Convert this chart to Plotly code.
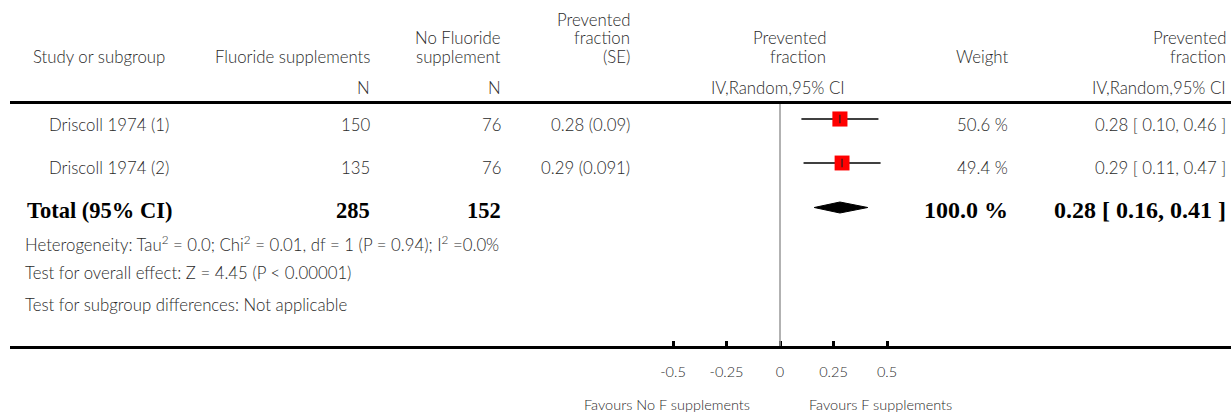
import plotly.graph_objects as go

# ---------------- data ----------------
studies = ["Driscoll 1974 (1)", "Driscoll 1974 (2)"]
n_fluoride = [150, 135]
n_control = [76, 76]
pf_se_text = ["0.28 (0.09)", "0.29 (0.091)"]
estimate = [0.28, 0.29]
ci_low = [0.10, 0.11]
ci_high = [0.46, 0.47]
weights = [50.6, 49.4]

total_label = "Total (95% CI)"
total_n_fluoride = 285
total_n_control = 152
total_est = 0.28
total_low = 0.16
total_high = 0.41
total_weight = 100.0

heterogeneity = "Heterogeneity: Tau<sup>2</sup> = 0.0; Chi<sup>2</sup> = 0.01, df = 1 (P = 0.94); I<sup>2</sup> =0.0%"
overall_effect = "Test for overall effect: Z = 4.45 (P < 0.00001)"
subgroup_diff = "Test for subgroup differences: Not applicable"

tick_vals = [-0.5, -0.25, 0, 0.25, 0.5]
tick_text = ["-0.5", "-0.25", "0", "0.25", "0.5"]
favours_left = "Favours No F supplements"
favours_right = "Favours F supplements"

# ---------------- layout constants ----------------
W, H = 1231, 412
ML = 10
PLOT_BOTTOM = 346
PX_PER_UNIT = 214.0
ZERO_PX = 780
r0 = -(ZERO_PX - ML) / PX_PER_UNIT
r1 = r0 + (W - ML) / PX_PER_UNIT

row_mark_y = [119, 163]
row_text_y = [124, 167]
total_mark_y = 207.5
total_text_y = 210
foot_y = [243, 272, 304]
LINE_H = 18.5

SANS = "Lato"
SERIF = "Liberation Serif"
TXT = "#2a2a2a"
FS = 16.8
WEIGHT = 300

fig = go.Figure()

# CI lines + squares
fig.add_trace(go.Scatter(
    x=estimate, y=row_mark_y, mode="markers",
    marker=dict(symbol="square", color="#ff0000", opacity=1,
                size=[15 * (w / 50.0) ** 0.5 for w in weights],
                line=dict(width=0)),
    error_x=dict(type="data", symmetric=False,
                 array=[h - e for h, e in zip(ci_high, estimate)],
                 arrayminus=[e - l for e, l in zip(estimate, ci_low)],
                 color="black", thickness=1.6, width=0),
    hoverinfo="skip", showlegend=False, xaxis="x", yaxis="y"))
# small centre tick
fig.add_trace(go.Scatter(
    x=estimate, y=row_mark_y, mode="markers",
    marker=dict(symbol="line-ns", size=6, opacity=1, line=dict(width=1.2, color="#222")),
    hoverinfo="skip", showlegend=False))
# diamond
dh = 5.5
fig.add_trace(go.Scatter(
    x=[total_low, total_est, total_high, total_est, total_low],
    y=[total_mark_y, total_mark_y - dh, total_mark_y, total_mark_y + dh, total_mark_y],
    mode="lines", fill="toself", fillcolor="black",
    line=dict(color="black", width=1), hoverinfo="skip", showlegend=False))
# dummy trace for pixel axis
fig.add_trace(go.Scatter(x=[ML], y=[0], mode="markers", marker=dict(opacity=0),
                         xaxis="x2", yaxis="y", hoverinfo="skip", showlegend=False))

ann = []
def t(x, y, text, anchor="left", size=FS, family=SANS, color=TXT, weight=WEIGHT, paper_y=False):
    if paper_y:
        yv, yref = (PLOT_BOTTOM - y) / PLOT_BOTTOM, "paper"
    else:
        yv, yref = y, "y"
    ann.append(dict(x=x, y=yv, xref="x2", yref=yref, text=text, showarrow=False,
                    xanchor=anchor, yanchor="middle", align=anchor,
                    font=dict(family=family, size=size, color=color, weight=weight)))

def tm(x, y_last, lines, anchor="right"):
    n = len(lines)
    for k, s in enumerate(lines):
        t(x, y_last - (n - 1 - k) * LINE_H, s, anchor)

# header
t(31, 56, "Study or subgroup")
t(372, 56, "Fluoride supplements", "right")
tm(503, 56, ["No Fluoride", "supplement"])
tm(632, 56, ["Prevented", "fraction", "(SE)"])
tm(828, 56, ["Prevented", "fraction"])
t(1010, 56, "Weight", "right")
tm(1228, 56, ["Prevented", "fraction"])
t(372, 87, "N", "right")
t(503, 87, "N", "right")
t(847, 87, "IV,Random,95% CI", "right")
t(1228, 87, "IV,Random,95% CI", "right")

# study rows
for i in range(len(studies)):
    y = row_text_y[i]
    t(47, y, studies[i])
    t(372, y, str(n_fluoride[i]), "right")
    t(503, y, str(n_control[i]), "right")
    t(632, y, pf_se_text[i], "right")
    t(1010, y, f"{weights[i]:.1f} %", "right")
    t(1228, y, f"{estimate[i]:.2f} [ {ci_low[i]:.2f}, {ci_high[i]:.2f} ]", "right")

# total row
bold = dict(size=22.5, family=SERIF, color="black", weight="bold")
boldn = dict(size=24, family=SERIF, color="black", weight="bold")
t(25, total_text_y, total_label, **bold)
t(372, total_text_y, str(total_n_fluoride), "right", **bold)
t(503, total_text_y, str(total_n_control), "right", **bold)
t(1010, total_text_y, f"{total_weight:.1f} %", "right", **boldn)
t(1228, total_text_y, f"{total_est:.2f} [ {total_low:.2f}, {total_high:.2f} ]", "right", **boldn)

# footer
t(23, foot_y[0], heterogeneity)
t(23, foot_y[1], overall_effect)
t(23, foot_y[2], subgroup_diff)

# favours labels
t(752, 404, favours_left, "right", size=14.5, paper_y=True)
t(807, 404, favours_right, "left", size=14.5, paper_y=True)

shapes = [
    dict(type="line", xref="x2", yref="y", x0=ML, x1=W, y0=102.5, y1=102.5,
         line=dict(color="black", width=3)),
    dict(type="line", xref="x", yref="y", x0=0, x1=0, y0=104, y1=PLOT_BOTTOM,
         line=dict(color="#999999", width=1.5)),
]

fig.update_layout(
    width=W, height=H,
    margin=dict(l=ML, r=0, t=0, b=H - PLOT_BOTTOM, pad=0),
    paper_bgcolor="white", plot_bgcolor="white",
    showlegend=False,
    xaxis=dict(range=[r0, r1], domain=[0, 1], showgrid=False, zeroline=False,
               showline=True, linecolor="black", linewidth=3,
               ticks="inside", ticklen=5, tickwidth=3, tickcolor="black",
               tickvals=tick_vals, ticktext=tick_text,
               tickfont=dict(family=SANS, size=14.5, color=TXT, weight=WEIGHT),
               ticklabelstandoff=11, fixedrange=True),
    xaxis2=dict(range=[ML, W], overlaying="x", visible=False, fixedrange=True),
    yaxis=dict(range=[PLOT_BOTTOM, 0], visible=False, fixedrange=True),
    annotations=ann, shapes=shapes,
)

fig.write_html("out.html", config={"displayModeBar": False},
               post_script="document.body.style.margin='0px';document.body.style.overflow='hidden';")
